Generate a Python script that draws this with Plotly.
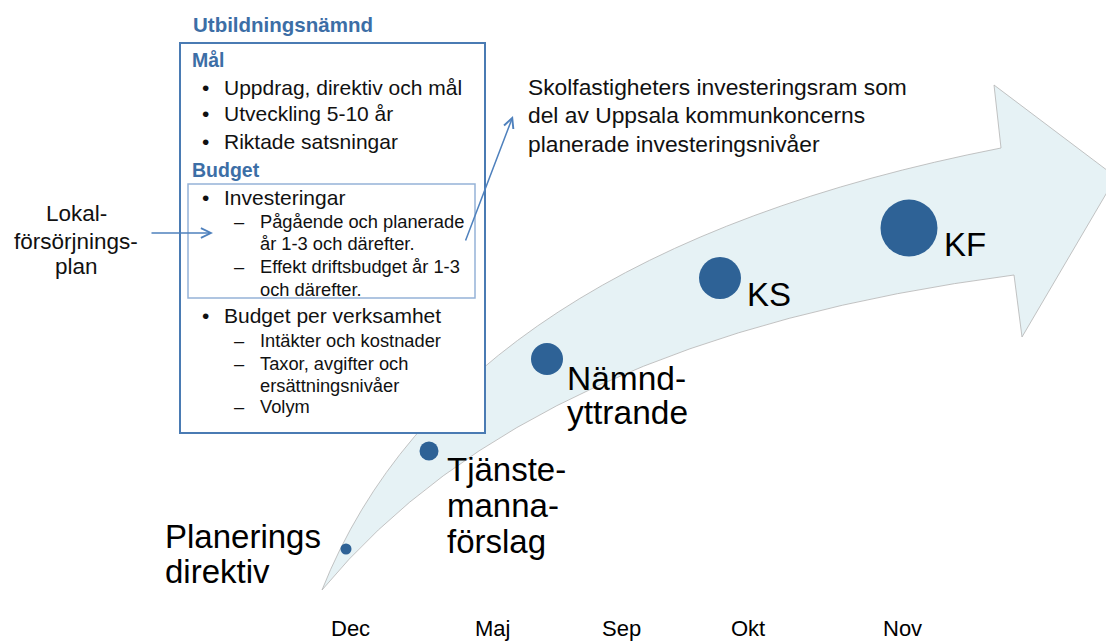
import plotly.graph_objects as go

W, H = 1114, 642
PAGE_OFFSET = 8  # default body margin of the html page
FONT = "Liberation Sans, Arial, sans-serif"
BLUE = "#2e6296"
HEAD = "#3c6ea6"

# ---- stages along the arrow ----
stage_x = [346, 429, 547, 720, 909]
stage_y = [549, 451, 359, 278, 228]
stage_size = [11, 19, 32, 42, 57]
stage_lines = [["Planerings", "direktiv"], ["Tjänste-", "manna-", "förslag"],
               ["Nämnd-", "yttrande"], ["KS"], ["KF"]]
stage_label_x = [163, 445, 565, 745, 942]
stage_label_y = [536, 469, 378, 294, 244]
stage_line_gap = [35.5, 36, 34, 0, 0]
stage_font = [33, 33, 33.5, 33, 33]

# ---- months ----
months = ["Dec", "Maj", "Sep", "Okt", "Nov"]
month_x = [350, 492, 621, 748, 902]
month_y = 628

# ---- box contents: (text, x, y, size, kind) ----
box_title = "Utbildningsnämnd"
box_lines = [
    ("Mål", 190, 60, 19.5, "head"),
    ("Uppdrag, direktiv och mål", 222, 87.5, 21, "b"),
    ("Utveckling 5-10 år", 222, 113.5, 21, "b"),
    ("Riktade satsningar", 222, 141, 21, "b"),
    ("Budget", 190, 169.5, 19.5, "head"),
    ("Investeringar", 222, 197, 21, "b"),
    ("Pågående och planerade", 258, 221.5, 18.3, "d"),
    ("år 1-3 och därefter.", 258, 243, 18.3, "c"),
    ("Effekt driftsbudget år 1-3", 258, 266.5, 18.3, "d"),
    ("och därefter.", 258, 289, 18.3, "c"),
    ("Budget per verksamhet", 222, 315, 21, "b"),
    ("Intäkter och kostnader", 258, 340, 18.3, "d"),
    ("Taxor, avgifter och", 258, 363.5, 18.3, "d"),
    ("ersättningsnivåer", 258, 385, 18.3, "c"),
    ("Volym", 258, 406.5, 18.3, "d"),
]
lokal_lines = ["Lokal-", "försörjnings-", "plan"]
lokal_y = [213.5, 241.5, 266.5]
skol_lines = ["Skolfastigheters investeringsram som",
              "del av Uppsala kommunkoncerns",
              "planerade investeringsnivåer"]
skol_y = [87, 115, 144]

fig = go.Figure()

# big curved arrow
arrow_path = ("M 322,590 Q 455,255 1001,148 L 994,85 L 1116,177 L 1022,337 "
              "L 1014,275 Q 530,338 322,590 Z")
fig.add_shape(type="path", path=arrow_path, xref="x", yref="y",
              fillcolor="#e6f2f5", line=dict(color="#b4b4b4", width=0.8),
              layer="below")
# outer box (white, covers arrow)
fig.add_shape(type="rect", x0=180, y0=43, x1=485, y1=433, xref="x", yref="y",
              fillcolor="white", line=dict(color="#4a7bb3", width=2), layer="below")
# inner box
fig.add_shape(type="rect", x0=188, y0=184, x1=475, y1=298, xref="x", yref="y",
              fillcolor="rgba(0,0,0,0)", line=dict(color="#95b3d7", width=1.5),
              layer="below")

fig.add_trace(go.Scatter(x=stage_x, y=stage_y, mode="markers",
                         marker=dict(size=stage_size, color=BLUE, opacity=1,
                                     line=dict(width=0)),
                         hoverinfo="skip", showlegend=False))

ann = []
for lines, lx, ly, gap, fs in zip(stage_lines, stage_label_x, stage_label_y,
                                  stage_line_gap, stage_font):
    for i, t in enumerate(lines):
        ann.append(dict(x=lx, y=ly + i * gap, text=t, showarrow=False,
                        xanchor="left", yanchor="middle",
                        font=dict(family=FONT, size=fs, color="black")))
for m, mx in zip(months, month_x):
    ann.append(dict(x=mx, y=month_y, text=m, showarrow=False, xanchor="center",
                    yanchor="middle", font=dict(family=FONT, size=22, color="black")))

ann.append(dict(x=191, y=24, text="<b>%s</b>" % box_title, showarrow=False,
                xanchor="left", yanchor="middle",
                font=dict(family=FONT, size=20.5, color=HEAD)))
for t, x, y, s, kind in box_lines:
    if kind == "head":
        txt, col = "<b>%s</b>" % t, HEAD
    else:
        txt, col = t, "#111111"
    ann.append(dict(x=x, y=y, text=txt, showarrow=False, xanchor="left",
                    yanchor="middle", font=dict(family=FONT, size=s, color=col)))
    if kind == "b":
        ann.append(dict(x=205, y=y, text="•", showarrow=False, xanchor="center",
                        yanchor="middle", font=dict(family=FONT, size=s, color="#111111")))
    elif kind == "d":
        ann.append(dict(x=239, y=y, text="–", showarrow=False, xanchor="center",
                        yanchor="middle", font=dict(family=FONT, size=s, color="#111111")))

for t, y in zip(lokal_lines, lokal_y):
    ann.append(dict(x=76, y=y, text=t, showarrow=False, xanchor="center",
                    yanchor="middle", font=dict(family=FONT, size=22.5, color="#111111")))
for t, y in zip(skol_lines, skol_y):
    ann.append(dict(x=526, y=y, text=t, showarrow=False, xanchor="left",
                    yanchor="middle", font=dict(family=FONT, size=22.8, color="#111111")))

# connector arrows
ann.append(dict(x=213, y=233, ax=150, ay=233, xref="x", yref="y", axref="x", ayref="y",
                text="", showarrow=True, arrowhead=5, arrowsize=1.3, arrowwidth=1.5,
                arrowcolor="#4f81bd"))
ann.append(dict(x=513, y=116, ax=465, ay=242, xref="x", yref="y", axref="x", ayref="y",
                text="", showarrow=True, arrowhead=5, arrowsize=1.3, arrowwidth=1.5,
                arrowcolor="#4f81bd"))

fig.update_layout(
    width=W, height=H, autosize=False,
    margin=dict(l=0, r=0, t=0, b=0),
    paper_bgcolor="white", plot_bgcolor="white",
    xaxis=dict(range=[PAGE_OFFSET, W + PAGE_OFFSET], visible=False, fixedrange=True),
    yaxis=dict(range=[H + PAGE_OFFSET, PAGE_OFFSET], visible=False, fixedrange=True),
    annotations=ann, showlegend=False,
)
fig.write_html("out.html")
